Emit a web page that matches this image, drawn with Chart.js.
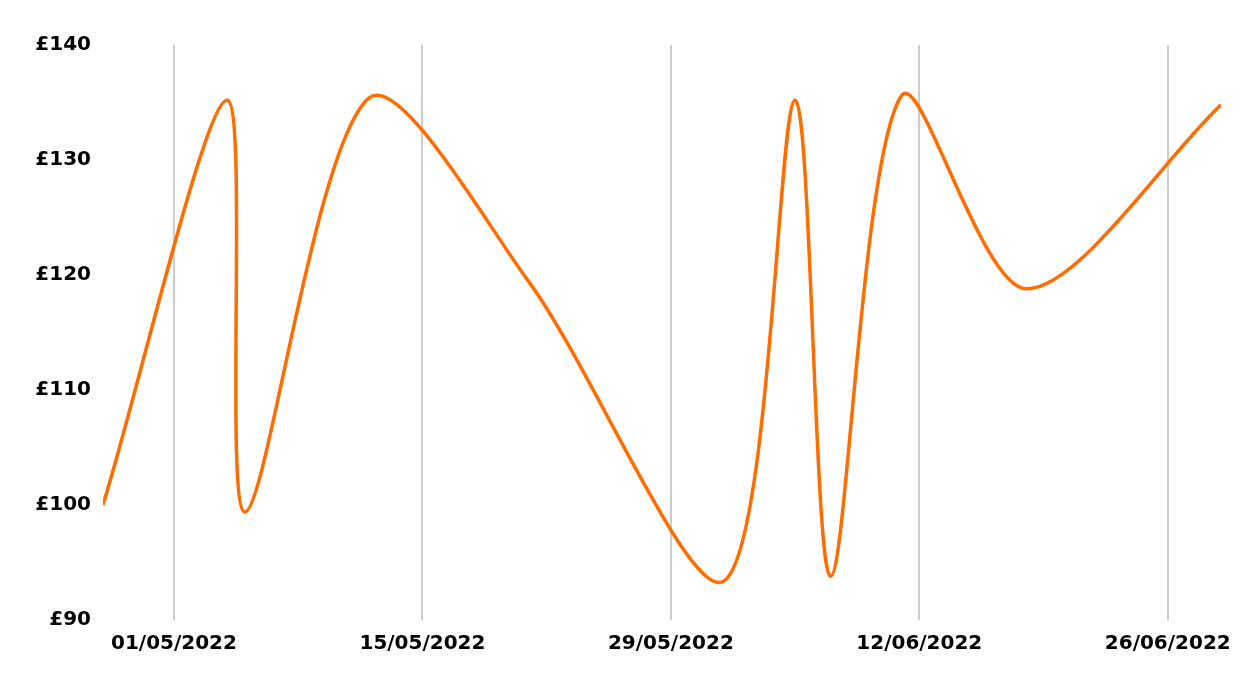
<!DOCTYPE html>
<html>
<head>
<meta charset="utf-8">
<script src="https://cdn.jsdelivr.net/npm/chart.js@4/dist/chart.umd.min.js"></script>
<style>
    html, body { margin: 0; padding: 0; background: #fff; }
    #wrap { width: 1256px; height: 690px; }
</style>
</head>
<body>
<div id="wrap"><canvas id="chart"></canvas></div>
<script>
// dates of the data points and the price on each
const dates = ["27/04/2022", "04/05/2022", "05/05/2022", "12/05/2022", "21/05/2022", "01/06/2022",
    "05/06/2022", "07/06/2022", "11/06/2022", "18/06/2022", "29/06/2022"];
const prices = [100, 135.2, 99.4, 135.4, 119.4, 93.4, 135.2, 93.8, 135.6, 118.8, 134.8];

// x axis tick labels (gridlines) and y axis range
const tickDates = ["01/05/2022", "15/05/2022", "29/05/2022", "12/06/2022", "26/06/2022"];
const yMin = 90;
const yMax = 140;
const yStep = 10;

function toDay(s) {
    const [d, m, y] = s.split("/").map(Number);
    return Date.UTC(y, m - 1, d) / 864e5;
}

function fromDay(n) {
    const dt = new Date(n * 864e5);
    const dd = String(dt.getUTCDate()).padStart(2, "0");
    const mm = String(dt.getUTCMonth() + 1).padStart(2, "0");
    return dd + "/" + mm + "/" + dt.getUTCFullYear();
}

document.addEventListener("DOMContentLoaded", function () {
    const ctx = document.getElementById("chart").getContext("2d");

    const points = dates.map(function (d, i) {
        return { x: toDay(d), y: prices[i] };
    });

    const tickFont = { family: "'DejaVu Sans', Verdana, sans-serif", size: 20, weight: "bold" };

    new Chart(ctx, {
        type: "line",
        data: {
            datasets: [
                {
                    data: points,
                    borderColor: "#ff6c00",
                    borderWidth: 3.5,
                    pointRadius: 0,
                    tension: 0.3,
                    fill: false,
                },
            ],
        },
        options: {
            responsive: true,
            maintainAspectRatio: false,
            animation: false,
            layout: { padding: { top: 45, right: 35, left: 0, bottom: 0 } },
            plugins: {
                legend: { display: false },
                tooltip: { enabled: false },
            },
            scales: {
                x: {
                    type: "linear",
                    min: toDay(dates[0]),
                    max: toDay(dates[dates.length - 1]),
                    afterBuildTicks: function (scale) {
                        scale.ticks = tickDates.map(function (d) { return { value: toDay(d) }; });
                    },
                    afterFit: function (scale) { scale.height = 70; },
                    grid: { color: "#cccccc", lineWidth: 2, drawTicks: false },
                    border: { display: false },
                    ticks: {
                        font: tickFont,
                        color: "#000",
                        padding: 12,
                        maxRotation: 0,
                        autoSkip: false,
                        callback: function (v) { return fromDay(v); },
                    },
                },
                y: {
                    min: yMin,
                    max: yMax,
                    afterFit: function (scale) { scale.width = 103; },
                    grid: { display: false, drawTicks: false },
                    border: { display: false },
                    ticks: {
                        stepSize: yStep,
                        font: tickFont,
                        color: "#000",
                        padding: 12,
                        callback: function (v) { return "£" + v; },
                    },
                },
            },
        },
    });
});
</script>
</body>
</html>
